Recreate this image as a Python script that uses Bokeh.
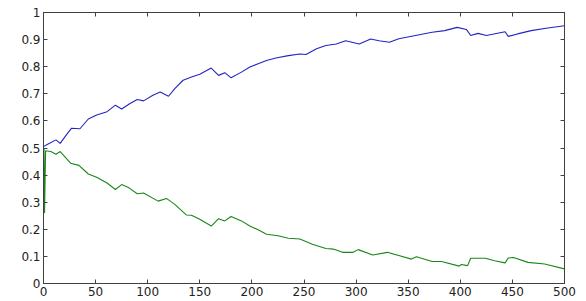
from bokeh.plotting import figure
from bokeh.models import LinearAxis, FixedTicker, CustomJSTickFormatter, Range1d, CustomLabelingPolicy
from bokeh.embed import file_html
from bokeh.resources import INLINE

# Blue series (rising)
blue_x = [0, 4, 12, 16, 23, 27, 35, 43, 51, 61, 69, 75, 83, 90, 96, 105, 112, 120, 126, 134,
          142, 150, 161, 168, 174, 180, 190, 198, 206, 214, 223, 235, 246, 252, 262, 271, 281,
          290, 303, 314, 322, 332, 341, 357, 373, 385, 397, 406, 410, 417, 425, 443, 446, 455,
          468, 484, 500]
blue_y = [0.505, 0.514, 0.53, 0.517, 0.554, 0.573, 0.571, 0.607, 0.622, 0.634, 0.658, 0.644,
          0.664, 0.679, 0.674, 0.695, 0.707, 0.691, 0.719, 0.75, 0.762, 0.772, 0.795, 0.768,
          0.778, 0.759, 0.780, 0.799, 0.811, 0.823, 0.832, 0.841, 0.847, 0.845, 0.866, 0.878,
          0.884, 0.896, 0.884, 0.902, 0.896, 0.890, 0.903, 0.915, 0.927, 0.933, 0.945, 0.937,
          0.915, 0.923, 0.915, 0.929, 0.912, 0.921, 0.933, 0.943, 0.951]

# Green series (falling)
green_x = [0, 0.5, 1, 2, 7, 12, 16, 26, 34, 43, 51, 61, 69, 75, 82, 90, 96, 110, 118, 126, 137,
           142, 150, 161, 168, 174, 180, 190, 198, 206, 214, 225, 235, 246, 258, 271, 278, 287,
           297, 302, 316, 330, 341, 353, 358, 373, 382, 399, 401, 407, 410, 424, 433, 443, 446,
           451, 465, 481, 500]
green_y = [0.25, 0.50, 0.26, 0.49, 0.487, 0.477, 0.487, 0.444, 0.436, 0.404, 0.392, 0.371,
           0.347, 0.365, 0.353, 0.331, 0.334, 0.304, 0.314, 0.292, 0.253, 0.252, 0.237, 0.212,
           0.239, 0.231, 0.247, 0.231, 0.212, 0.198, 0.182, 0.176, 0.167, 0.164, 0.145, 0.129,
           0.127, 0.115, 0.115, 0.125, 0.105, 0.115, 0.103, 0.090, 0.099, 0.081, 0.081, 0.064,
           0.070, 0.066, 0.093, 0.093, 0.084, 0.076, 0.094, 0.096, 0.078, 0.072, 0.054]

x_ticks = [0, 50, 100, 150, 200, 250, 300, 350, 400, 450, 500]
y_ticks = [0, 0.1, 0.2, 0.3, 0.4, 0.5, 0.6, 0.7, 0.8, 0.9, 1]

p = figure(width=586, height=301, output_backend="svg", toolbar_location=None,
           x_range=Range1d(0, 500), y_range=Range1d(0, 1),
           min_border_left=43, min_border_right=20, min_border_top=10, min_border_bottom=18,
           x_axis_location=None, y_axis_location=None)
p.grid.visible = False
p.outline_line_color = "#404040"
p.background_fill_color = "white"
p.border_fill_color = "white"

fmt_y = CustomJSTickFormatter(code="return String(Math.round(tick*10)/10);")
hide_all = CustomLabelingPolicy(code="for (const i of Array.from(indices)) { indices.unset(i) } return indices")

FONT = "DejaVu Sans"

def make_axis(ticks, labels, fmt=None):
    ax = LinearAxis(ticker=FixedTicker(ticks=ticks))
    if fmt is not None:
        ax.formatter = fmt
    ax.axis_line_color = "#404040"
    ax.major_tick_line_color = "#404040"
    ax.major_tick_in = 4
    ax.major_tick_out = 0
    ax.minor_tick_line_color = None
    ax.major_label_text_font = FONT
    ax.major_label_text_color = "#222222"
    ax.major_label_text_font_size = "12px"
    ax.major_label_standoff = 3
    if not labels:
        ax.major_label_policy = hide_all
        ax.major_label_standoff = 0
    return ax

p.add_layout(make_axis(x_ticks, True), "below")
p.add_layout(make_axis(y_ticks, True, fmt_y), "left")
p.add_layout(make_axis(x_ticks, False), "above")
p.add_layout(make_axis(y_ticks, False, fmt_y), "right")

p.line(blue_x, blue_y, line_color="#2424c4", line_width=1.1)
p.line(green_x, green_y, line_color="#1a861a", line_width=1.1)

open("out.html", "w").write(file_html(p, INLINE))
